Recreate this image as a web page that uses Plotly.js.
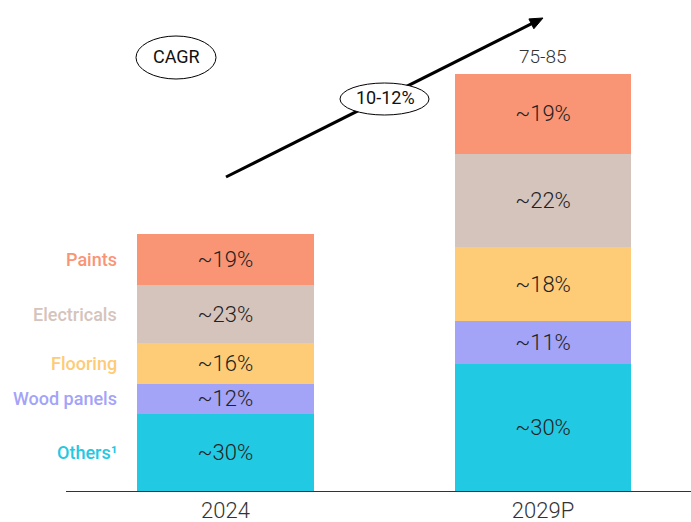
<!DOCTYPE html>
<html>
<head>
<meta charset="utf-8">
<script src="https://cdn.plot.ly/plotly-3.0.1.min.js"></script>
<style>html,body{margin:0;padding:0;background:#fff}#chart{width:691px;height:522px}</style>
</head>
<body>
<div id="chart"></div>
<script>
// ---- data ----
const years = ["2024", "2029P"];
const segments = ["Others¹", "Wood panels", "Flooring", "Electricals", "Paints"];
const others      = [14.8, 24.3];
const woodPanels  = [5.8, 8.25];
const flooring    = [7.7, 14.3];
const electricals = [11.3, 17.85];
const paints      = [9.7, 15.3];
const othersShare      = ["~30%", "~30%"];
const woodPanelsShare  = ["~12%", "~11%"];
const flooringShare    = ["~16%", "~18%"];
const electricalsShare = ["~23%", "~22%"];
const paintsShare      = ["~19%", "~19%"];
const totalLabels = ["45-50", "75-85"];
const cagrLabel = "10-12%";

// ---- styling ----
const colors = ["#22C9E3", "#A3A3F8", "#FECB76", "#D5C4BC", "#F99575"];
const seriesVals = [others, woodPanels, flooring, electricals, paints];
const seriesText = [othersShare, woodPanelsShare, flooringShare, electricalsShare, paintsShare];
const FONT = "Roboto, 'Open Sans', sans-serif";

const W = 691, H = 522;
const M = {l: 66, r: 0, t: 0, b: 31};
const plotW = W - M.l - M.r, plotH = H - M.t - M.b;
const px = x => (x - M.l) / plotW;           // pixel -> paper x
const py = y => (H - M.b - y) / plotH;        // pixel -> paper y

const traces = seriesVals.map((vals, i) => ({
  type: "bar",
  name: segments[i],
  x: years,
  y: vals,
  text: seriesText[i],
  textposition: "inside",
  insidetextanchor: "middle",
  textangle: 0,
  constraintext: "none",
  textfont: {family: FONT, size: 22, color: "#222222", weight: 300},
  marker: {color: colors[i], line: {width: 0}},
  width: 0.555,
  hoverinfo: "skip",
  showlegend: false
}));

const annotations = [];
// totals above bars
years.forEach((yr, j) => {
  const tot = seriesVals.reduce((s, v) => s + v[j], 0);
  annotations.push({
    x: yr, y: tot, xref: "x", yref: "y", text: totalLabels[j],
    showarrow: false, yanchor: "bottom", yshift: 4,
    font: {family: FONT, size: 19, color: "#333333", weight: 300}
  });
});
// segment labels to the left of 2024 bar
let cum = 0;
seriesVals.forEach((vals, i) => {
  const mid = cum + vals[0] / 2;
  cum += vals[0];
  annotations.push({
    x: px(119), xref: "paper", y: mid, yref: "y", text: segments[i],
    showarrow: false, xanchor: "right", yanchor: "middle",
    font: {family: FONT, size: 18, color: colors[i], weight: 500}
  });
});
// CAGR texts
annotations.push({
  x: px(176), y: py(57), xref: "paper", yref: "paper", text: "CAGR",
  showarrow: false, xanchor: "center", yanchor: "middle",
  font: {family: FONT, size: 18, color: "#111111", weight: 400}
});
annotations.push({
  x: px(385), y: py(98), xref: "paper", yref: "paper", text: cagrLabel,
  showarrow: false, xanchor: "center", yanchor: "middle",
  font: {family: FONT, size: 18, color: "#111111", weight: 400}
});

// arrow geometry (pixels)
const tail = [226, 177], tip = [543, 18];
const dx = tip[0] - tail[0], dy = tip[1] - tail[1];
const len = Math.hypot(dx, dy);
const ux = dx / len, uy = dy / len;
const hl = 13, hw = 5.5;
const bx = tip[0] - hl * ux, by = tip[1] - hl * uy;
const c1 = [bx + hw * -uy, by + hw * ux], c2 = [bx - hw * -uy, by - hw * ux];

const shapes = [
  {type: "line", xref: "paper", yref: "paper",
   x0: px(tail[0]), y0: py(tail[1]), x1: px(bx + 2 * ux), y1: py(by + 2 * uy),
   line: {color: "#000000", width: 3}, layer: "above"},
  {type: "path", xref: "paper", yref: "paper",
   path: `M ${px(tip[0])} ${py(tip[1])} L ${px(c1[0])} ${py(c1[1])} L ${px(c2[0])} ${py(c2[1])} Z`,
   fillcolor: "#000000", line: {color: "#000000", width: 1}, layer: "above"},
  {type: "circle", xref: "paper", yref: "paper",
   x0: px(340), x1: px(429), y0: py(115), y1: py(83),
   fillcolor: "#ffffff", line: {color: "#000000", width: 1}, layer: "above"},
  {type: "circle", xref: "paper", yref: "paper",
   x0: px(136), x1: px(216), y0: py(79), y1: py(36),
   fillcolor: "rgba(0,0,0,0)", line: {color: "#000000", width: 1}, layer: "above"}
];

const layout = {
  width: W, height: H,
  margin: M,
  paper_bgcolor: "#ffffff", plot_bgcolor: "#ffffff",
  barmode: "stack",
  bargap: 0,
  showlegend: false,
  xaxis: {
    type: "category",
    range: [-0.502, 1.466],
    showgrid: false, zeroline: false,
    showline: true, linecolor: "#333333", linewidth: 1,
    ticks: "", tickfont: {family: FONT, size: 22, color: "#333333", weight: 300},
    fixedrange: true
  },
  yaxis: {
    range: [0, 94.2],
    visible: false, showgrid: false, zeroline: false,
    fixedrange: true
  },
  annotations: annotations,
  shapes: shapes
};

Plotly.newPlot("chart", traces, layout, {displayModeBar: false, staticPlot: true});
</script>
</body>
</html>
